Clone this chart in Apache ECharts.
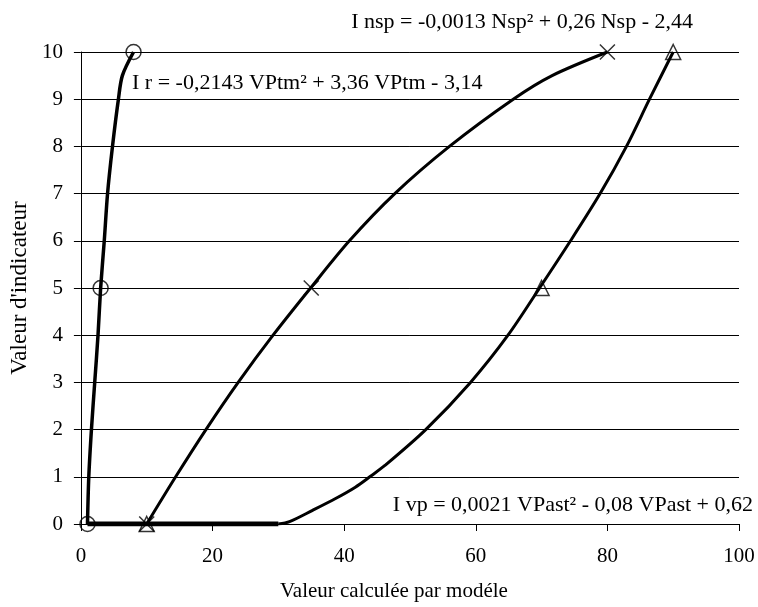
<!DOCTYPE html>
<html>
<head>
<meta charset="utf-8">
<script src="https://cdn.jsdelivr.net/npm/echarts@6/dist/echarts.min.js"></script>
<style>html,body{margin:0;padding:0;background:#fff;}#c{width:758px;height:607px;}</style>
</head>
<body>
<div id="c"></div>
<script>
// Tick values
const xTicks = [0, 20, 40, 60, 80, 100];
const yTicks = [0, 1, 2, 3, 4, 5, 6, 7, 8, 9, 10];

// Ir curve (circles)
const irX = [1, 1.2, 1.6, 2.1, 2.6, 3, 3.55, 4.05, 4.8, 5.7, 6.3, 8];
const irY = [0, 1, 2, 3, 4, 5, 6, 7, 8, 9, 9.5, 10];
const irMarkX = [1, 3, 8];
const irMarkY = [0, 5, 10];

// Insp curve (crosses)
const nspX = [10, 14.4, 19, 23.9, 29.2, 34.9, 40.8, 47.7, 56, 65.7, 71.6, 80];
const nspY = [0, 1, 2, 3, 4, 5, 6, 7, 8, 9, 9.5, 10];
const nspMarkX = [10, 35, 80];
const nspMarkY = [0, 5, 10];

// Ivp curve (triangles)
const vpX = [30, 31.7, 35.2, 38.7, 41.7, 43.9, 46.2, 52.4, 59.2, 64.9, 69.7, 74.4, 78.9, 82.9, 86.4, 90];
const vpY = [0, 0.05, 0.29, 0.54, 0.78, 1, 1.24, 2, 3, 4, 5, 6, 7, 8, 9, 10];
const vpMarkX = [10, 70, 90];
const vpMarkY = [0, 5, 10];

// Thick segment along zero
const zeroX = [1, 30];
const zeroY = [0, 0];

const eqNsp = 'I nsp = -0,0013 Nsp\u00b2 + 0,26 Nsp - 2,44';
const eqIr = 'I r = -0,2143 VPtm\u00b2 + 3,36 VPtm - 3,14';
const eqVp = 'I vp = 0,0021 VPast\u00b2 - 0,08 VPast + 0,62';

const zip = (xs, ys) => xs.map((x, i) => [x, ys[i]]);
const FONT = '"Liberation Serif", "Times New Roman", serif';

const chart = echarts.init(document.getElementById('c'), null, {renderer: 'canvas'});
const lineSeries = (data, w) => ({
  type: 'line', data: data, smooth: 0.3, showSymbol: false, symbol: 'none',
  lineStyle: {color: '#000', width: w}, z: 3, silent: true, animation: false
});
const markSeries = (data, symbol, size) => ({
  type: 'scatter', data: data, symbol: symbol, symbolSize: size,
  itemStyle: {color: 'rgba(0,0,0,0)', borderColor: '#000', borderWidth: 1.5},
  z: 5, silent: true, animation: false
});

chart.setOption({
  animation: false,
  backgroundColor: '#fff',
  grid: {left: 72, right: 19, top: 52, bottom: 78, containLabel: false},
  xAxis: {
    type: 'value', min: 0, max: 100, interval: 20,
    name: 'Valeur calcul\u00e9e par mod\u00e9le', nameLocation: 'middle', nameGap: 57,
    nameTextStyle: {fontFamily: FONT, fontSize: 21, color: '#000', padding: [0, 32, 0, 0]},
    axisLine: {show: true, onZero: true, lineStyle: {color: '#000', width: 1}},
    axisTick: {show: true, length: 7, lineStyle: {color: '#000'}},
    axisLabel: {fontFamily: FONT, fontSize: 21, color: '#000', margin: 22,
      formatter: v => xTicks.includes(v) ? String(v) : ''},
    splitLine: {show: false}
  },
  yAxis: {
    type: 'value', min: 0, max: 10, interval: 1,
    name: "Valeur d'indicateur", nameLocation: 'middle', nameGap: 39, nameRotate: 90,
    nameTextStyle: {fontFamily: FONT, fontSize: 23, color: '#000'},
    axisLine: {show: true, lineStyle: {color: '#000', width: 1}},
    axisTick: {show: true, length: 7, lineStyle: {color: '#000'}},
    axisLabel: {fontFamily: FONT, fontSize: 21, color: '#000', margin: 18,
      formatter: v => yTicks.includes(v) ? String(v) : ''},
    splitLine: {show: true, lineStyle: {color: '#000', width: 1}}
  },
  graphic: [
    {type: 'text', right: 758 - 693, top: 11, style: {text: eqNsp, font: '22px ' + FONT, fill: '#000'}},
    {type: 'text', left: 132, top: 72, style: {text: eqIr, font: '22px ' + FONT, fill: '#000'}},
    {type: 'text', right: 5, top: 494, style: {text: eqVp, font: '22px ' + FONT, fill: '#000'}}
  ],
  series: [
    Object.assign(lineSeries(zip(zeroX, zeroY), 5), {smooth: false}),
    lineSeries(zip(irX, irY), 3.5),
    lineSeries(zip(nspX, nspY), 3),
    lineSeries(zip(vpX, vpY), 3),
    markSeries(zip(irMarkX, irMarkY), 'circle', 15),
    markSeries(zip(nspMarkX, nspMarkY), 'path://M0,0L20,20M20,0L0,20', 15),
    markSeries(zip(vpMarkX, vpMarkY), 'triangle', 15)
  ]
});
</script>
</body>
</html>
